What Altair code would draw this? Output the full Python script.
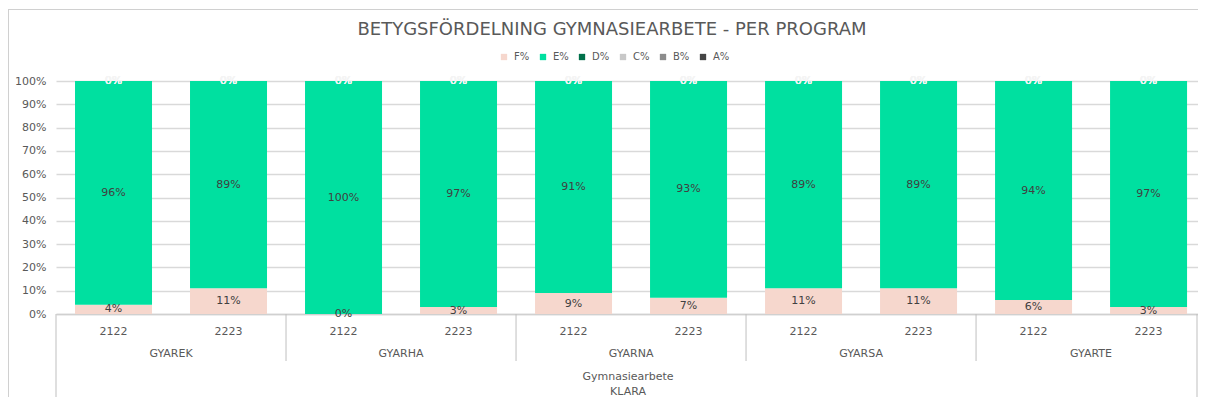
import altair as alt
import pandas as pd

programs = ["GYAREK", "GYAREK", "GYARHA", "GYARHA", "GYARNA", "GYARNA",
            "GYARSA", "GYARSA", "GYARTE", "GYARTE"]
years = ["2122", "2223", "2122", "2223", "2122", "2223", "2122", "2223", "2122", "2223"]
f_pct = [4, 11, 0, 3, 9, 7, 11, 11, 6, 3]
e_pct = [96, 89, 100, 97, 91, 93, 89, 89, 94, 97]
d_pct = [0, 0, 0, 0, 0, 0, 0, 0, 0, 0]
c_pct = [0, 0, 0, 0, 0, 0, 0, 0, 0, 0]
b_pct = [0, 0, 0, 0, 0, 0, 0, 0, 0, 0]
a_pct = [0, 0, 0, 0, 0, 0, 0, 0, 0, 0]
grades = ["F%", "E%", "D%", "C%", "B%", "A%"]
grade_colors = ["#F6D7CD", "#00E0A0", "#00704A", "#C8C8C8", "#8C8C8C", "#454545"]
y_ticks = [0, 10, 20, 30, 40, 50, 60, 70, 80, 90, 100]
title_text = "BETYGSFÖRDELNING GYMNASIEARBETE - PER PROGRAM"

series = [f_pct, e_pct, d_pct, c_pct, b_pct, a_pct]
keys = [p + "|" + y for p, y in zip(programs, years)]
rows = []
for gi, (g, vals) in enumerate(zip(grades, series)):
    for i in range(len(keys)):
        rows.append({"key": keys[i], "program": programs[i], "year": years[i],
                     "grade": g, "gi": gi, "value": vals[i]})
df = pd.DataFrame(rows)

W, H = 1142, 233
STEP = 115
FONT = "DejaVu Sans"
GRAY = "#595959"

xscale = alt.Scale(domain=keys, paddingInner=0.33, paddingOuter=0.13, align=0.635)
yscale = alt.Scale(domain=[0, 100], nice=False)
xaxis = alt.Axis(title=None, labelExpr="split(datum.label, '|')[1]",
                 ticks=False, labelPadding=11, labelFontSize=11,
                 labelColor=GRAY, labelFont=FONT, domainColor="#D0D0D0",
                 domainWidth=1.5, labelAngle=0)
yaxis = alt.Axis(title=None, values=y_ticks, labelOverlap=False,
                 labelExpr="datum.value + '%'", ticks=False, domain=False,
                 gridColor="#D9D9D9", gridWidth=1.5, labelFontSize=11,
                 labelColor=GRAY, labelFont=FONT, labelPadding=10)
base = alt.Chart(df)

bars = base.mark_bar(size=77).encode(
    x=alt.X("key:N", scale=xscale, axis=xaxis),
    y=alt.Y("value:Q", stack="zero", scale=yscale, axis=yaxis),
    color=alt.Color("grade:N", scale=alt.Scale(domain=grades, range=grade_colors),
                    sort=grades,
                    legend=alt.Legend(title=None, orient="none", direction="horizontal",
                                      legendX=443, legendY=-29, symbolType="square",
                                      symbolSize=40, symbolStrokeWidth=0,
                                      labelFontSize=10, labelColor=GRAY, labelFont=FONT,
                                      columnPadding=8, labelOffset=5)),
    order=alt.Order("gi:Q"),
)

labels = base.transform_stack(
    stack="value", groupby=["key"], as_=["y0", "y1"],
    sort=[alt.SortField("gi", order="ascending")]
).transform_calculate(
    mid="(datum.y0 + datum.y1) / 2", txt="datum.value + '%'"
).mark_text(fontSize=11, font=FONT, baseline="middle").encode(
    x=alt.X("key:N", scale=xscale, axis=xaxis),
    y=alt.Y("mid:Q", scale=yscale, axis=yaxis),
    text="txt:N",
    color=alt.condition(alt.FieldOneOfPredicate(field="grade", oneOf=["F%", "E%"]),
                        alt.value("#404040"), alt.value("#F4F4F4")),
)

first = base.transform_filter("datum.year == '2122' && datum.grade == 'F%'")
one = first.transform_filter("datum.program == 'GYAREK'")
mid_prog = first.transform_filter("datum.program == 'GYARNA'")

prog_labels = first.mark_text(fontSize=11, font=FONT, color=GRAY, xOffset=STEP / 2,
                              baseline="middle").encode(
    x=alt.X("key:N", scale=xscale, axis=xaxis), y=alt.value(H + 40), text="program:N")

seps = first.transform_filter("datum.program != 'GYAREK'").mark_rule(
    color="#BFBFBF", strokeWidth=1, xOffset=-STEP / 2).encode(
    x=alt.X("key:N", scale=xscale, axis=xaxis), y=alt.value(H), y2=alt.value(H + 47))

lvl3 = mid_prog.mark_text(
    fontSize=11, font=FONT, color=GRAY, xOffset=STEP / 2 - 3, baseline="middle").encode(
    x=alt.X("key:N", scale=xscale, axis=xaxis), y=alt.value(H + 63),
    text=alt.value("Gymnasiearbete"))

lvl4 = mid_prog.mark_text(
    fontSize=11, font=FONT, color=GRAY, xOffset=STEP / 2 - 3, baseline="middle").encode(
    x=alt.X("key:N", scale=xscale, axis=xaxis), y=alt.value(H + 78),
    text=alt.value("KLARA"))

table_left = one.mark_rule(color="#BFBFBF", strokeWidth=1).encode(
    x=alt.value(0), y=alt.value(H), y2=alt.value(H + 90))
table_right = one.mark_rule(color="#BFBFBF", strokeWidth=1).encode(
    x=alt.value(W - 1), y=alt.value(H), y2=alt.value(H + 90))

frame_left = one.mark_rule(color="#D0D0D0", strokeWidth=1).encode(
    x=alt.value(-47.5), y=alt.value(-71), y2=alt.value(H + 90))
frame_top = one.mark_rule(color="#D0D0D0", strokeWidth=1).encode(
    x=alt.value(-48), x2=alt.value(W + 20), y=alt.value(-71.5))

title = one.mark_text(fontSize=18, font=FONT, color=GRAY, baseline="middle",
                      align="center").encode(
    x=alt.value(556), y=alt.value(-51), text=alt.value(title_text))

chart = alt.layer(
    frame_left, frame_top, title, bars, labels, prog_labels, seps, lvl3, lvl4,
    table_left, table_right
).properties(
    width=W, height=H,
    autosize=alt.AutoSizeParams(type="none"),
    padding={"left": 48, "top": 73, "right": 0, "bottom": 83},
).configure_view(stroke=None)

chart.save("out.html", embed_options={"renderer": "svg", "actions": False})
